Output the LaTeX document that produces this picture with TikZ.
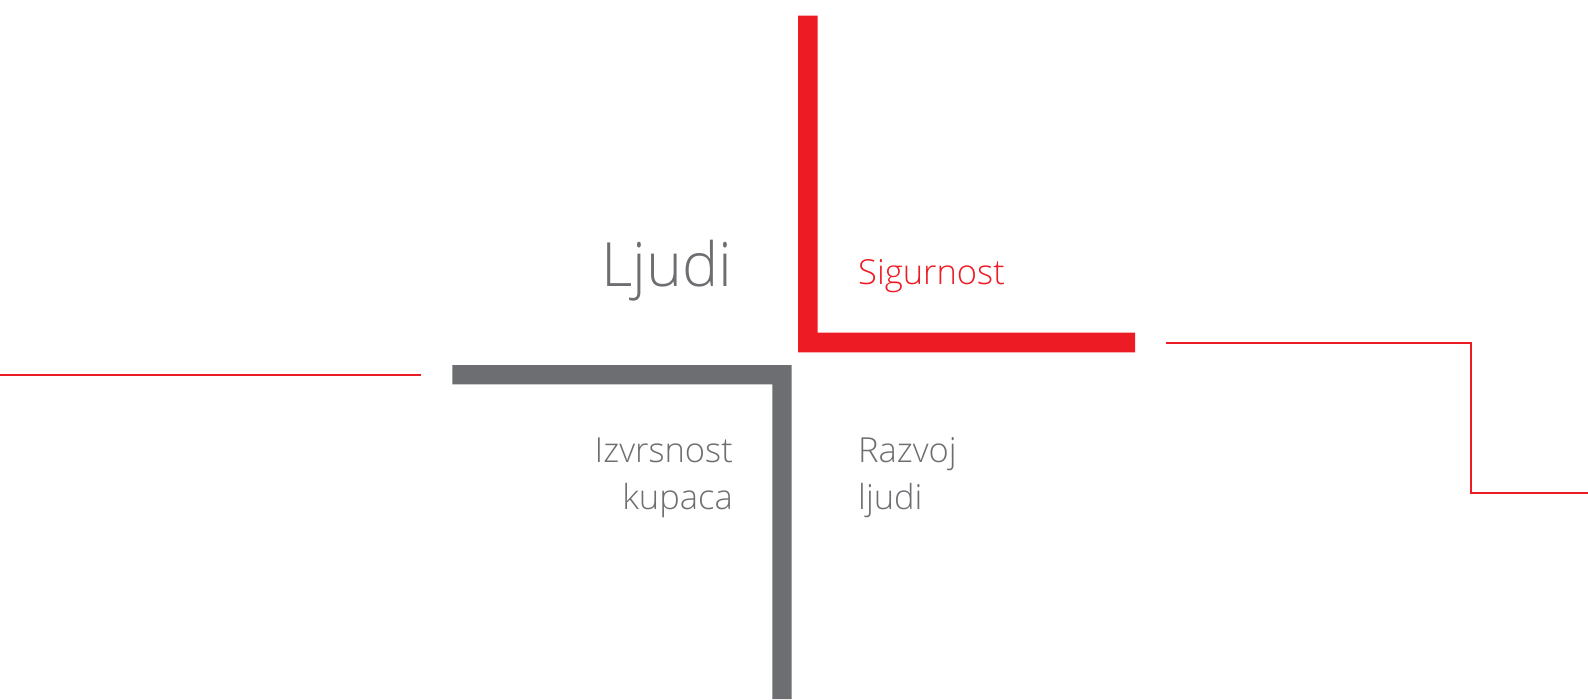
\documentclass[tikz,border=0pt]{standalone}
\usepackage{fontspec}
\setmainfont{Open Sans}[UprightFont=* Light]
\definecolor{brandred}{HTML}{ED1C24}
\definecolor{brandgray}{HTML}{6D6E71}
\begin{document}
\begin{tikzpicture}[x=1pt,y=-1pt,
  thinred/.style={draw=brandred,line width=2pt},
  bigtxt/.style={inner sep=0pt,font=\fontsize{61}{70}\selectfont,text=brandgray},
  midtxt/.style={inner sep=0pt,font=\fontsize{34.5}{47}\selectfont},
]
\useasboundingbox[fill=white] (0,0) rectangle (1588,699);
% red L
\fill[brandred] (798,15.7) -- (817.5,15.7) -- (817.5,332.7) -- (1135,332.7) -- (1135,352.3) -- (798,352.3) -- cycle;
% gray L
\fill[brandgray] (452.3,365) -- (791.7,365) -- (791.7,699) -- (772.3,699) -- (772.3,384.3) -- (452.3,384.3) -- cycle;
% thin red lines
\coordinate (l1) at (0,374.7);
\coordinate (l2) at (421.3,374.7);
\draw[thinred] (l1) -- (l2);
\coordinate (r1) at (1165.7,342.7);
\coordinate (r2) at (1471,342.7);
\coordinate (r3) at (1471,492.7);
\coordinate (r4) at (1588,492.7);
\draw[thinred] (r1) -- (r2) -- (r3) -- (r4);
% texts
\node[bigtxt,anchor=base east] (ljudi) at (733,286.7) {Ljudi};
\node[midtxt,text=brandred,anchor=base west] (sig) at (858,284.3) {Sigurnost};
\node[midtxt,text=brandgray,anchor=base east,align=right] (izv) at (733,509) {Izvrsnost\\kupaca};
\node[midtxt,text=brandgray,anchor=base west,align=left] (raz) at (858,509) {Razvoj\\ljudi};
\end{tikzpicture}
\end{document}
